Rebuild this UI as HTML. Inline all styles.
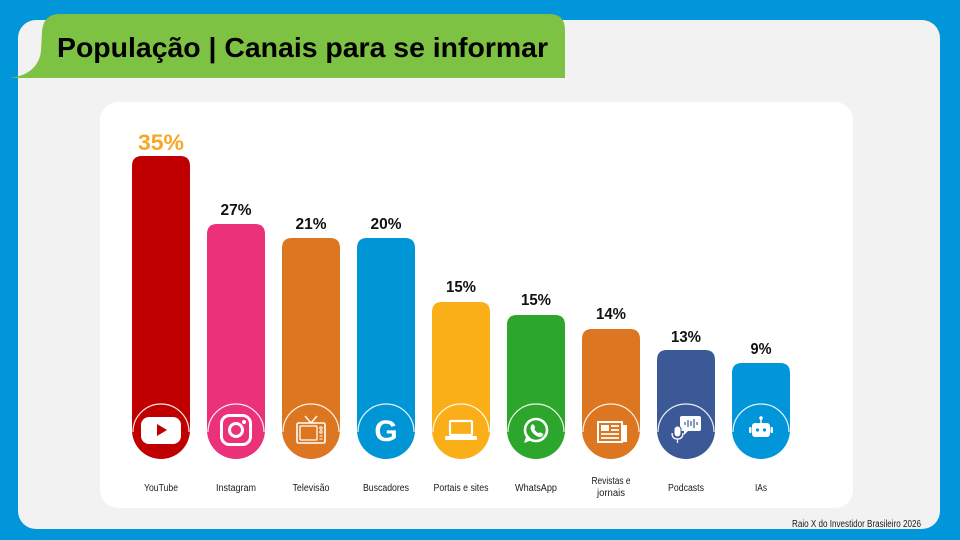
<!DOCTYPE html>
<html>
<head>
<meta charset="utf-8">
<style>
html,body{margin:0;padding:0;background:#0096D9;}
svg{display:block;}
text{font-family:"Liberation Sans",sans-serif;}
</style>
</head>
<body>
<svg width="960" height="540" viewBox="0 0 960 540" xmlns="http://www.w3.org/2000/svg">
  <rect x="0" y="0" width="960" height="540" fill="#0096D9"/>
  <!-- gray panel -->
  <rect x="18" y="20" width="922" height="509" rx="18" fill="#F2F2F2"/>
  <!-- green tab -->
  <path d="M10,78 C28,76 40,66 41,50 L42,32 Q43,14 60,14 L549,14 Q565,14 565,30 L565,78 Z" fill="#7DC243"/>
  <text x="57" y="57" font-size="28" font-weight="bold" fill="#000" textLength="491" lengthAdjust="spacingAndGlyphs">População | Canais para se informar</text>
  <!-- white card -->
  <rect x="100" y="102" width="753" height="406" rx="18" fill="#FFFFFF"/>

  <!-- bars -->
  <g>
    <path d="M132,166 Q132,156 142,156 H180 Q190,156 190,166 V430 A29,29 0 0 1 132,430 Z" fill="#C00000"/>
    <path d="M207,234 Q207,224 217,224 H255 Q265,224 265,234 V430 A29,29 0 0 1 207,430 Z" fill="#EC317B"/>
    <path d="M282,248 Q282,238 292,238 H330 Q340,238 340,248 V430 A29,29 0 0 1 282,430 Z" fill="#DC7620"/>
    <path d="M357,248 Q357,238 367,238 H405 Q415,238 415,248 V430 A29,29 0 0 1 357,430 Z" fill="#0096D6"/>
    <path d="M432,312 Q432,302 442,302 H480 Q490,302 490,312 V430 A29,29 0 0 1 432,430 Z" fill="#FAAF19"/>
    <path d="M507,325 Q507,315 517,315 H555 Q565,315 565,325 V430 A29,29 0 0 1 507,430 Z" fill="#2DA62C"/>
    <path d="M582,339 Q582,329 592,329 H630 Q640,329 640,339 V430 A29,29 0 0 1 582,430 Z" fill="#DC7620"/>
    <path d="M657,360 Q657,350 667,350 H705 Q715,350 715,360 V430 A29,29 0 0 1 657,430 Z" fill="#3B5897"/>
    <path d="M732,373 Q732,363 742,363 H780 Q790,363 790,373 V430 A29,29 0 0 1 732,430 Z" fill="#0096D9"/>
  </g>
  <!-- white arc outlines (top half only) -->
  <g fill="none" stroke="#FFFFFF" stroke-width="1.2" opacity="0.9">
    <path d="M133,432 A28,28 0 0 1 189,432"/>
    <path d="M208,432 A28,28 0 0 1 264,432"/>
    <path d="M283,432 A28,28 0 0 1 339,432"/>
    <path d="M358,432 A28,28 0 0 1 414,432"/>
    <path d="M433,432 A28,28 0 0 1 489,432"/>
    <path d="M508,432 A28,28 0 0 1 564,432"/>
    <path d="M583,432 A28,28 0 0 1 639,432"/>
    <path d="M658,432 A28,28 0 0 1 714,432"/>
    <path d="M733,432 A28,28 0 0 1 789,432"/>
  </g>

  <!-- value labels -->
  <text x="161" y="150" font-size="22" font-weight="bold" fill="#F7A823" text-anchor="middle" textLength="46" lengthAdjust="spacingAndGlyphs">35%</text>
  <g font-size="16" font-weight="bold" fill="#111" text-anchor="middle">
    <text x="236" y="215" textLength="31" lengthAdjust="spacingAndGlyphs">27%</text>
    <text x="311" y="229" textLength="31" lengthAdjust="spacingAndGlyphs">21%</text>
    <text x="386" y="229" textLength="31" lengthAdjust="spacingAndGlyphs">20%</text>
    <text x="461" y="292" textLength="30" lengthAdjust="spacingAndGlyphs">15%</text>
    <text x="536" y="305" textLength="30" lengthAdjust="spacingAndGlyphs">15%</text>
    <text x="611" y="319" textLength="30" lengthAdjust="spacingAndGlyphs">14%</text>
    <text x="686" y="342" textLength="30" lengthAdjust="spacingAndGlyphs">13%</text>
    <text x="761" y="354" textLength="21" lengthAdjust="spacingAndGlyphs">9%</text>
  </g>

  <!-- icons -->
  <!-- YouTube -->
  <rect x="141" y="417" width="40" height="27" rx="8" fill="#FFFFFF"/>
  <polygon points="157,424 157,436 167,430" fill="#C00000"/>
  <!-- Instagram -->
  <rect x="221.5" y="415.5" width="29" height="29" rx="8" fill="none" stroke="#FFFFFF" stroke-width="3"/>
  <circle cx="236" cy="430" r="6.5" fill="none" stroke="#FFFFFF" stroke-width="3"/>
  <circle cx="244" cy="422" r="2" fill="#FFFFFF"/>
  <!-- TV -->
  <g stroke="#FFFFFF" fill="none">
    <rect x="297" y="423" width="28" height="20" rx="1.5" stroke-width="1.6"/>
    <rect x="300" y="426" width="17" height="14" rx="1" stroke-width="1.3"/>
    <line x1="311" y1="423" x2="305" y2="416" stroke-width="1.4"/>
    <line x1="311" y1="423" x2="317" y2="416" stroke-width="1.4"/>
    <circle cx="321" cy="428" r="1.2" stroke-width="1"/>
    <circle cx="321" cy="432" r="1.2" stroke-width="1"/>
    <line x1="319.5" y1="436" x2="322.5" y2="436" stroke-width="1"/>
    <line x1="319.5" y1="439" x2="322.5" y2="439" stroke-width="1"/>
  </g>
  <!-- Google G -->
  <text x="386" y="441" font-size="30" font-weight="bold" fill="#FFFFFF" text-anchor="middle">G</text>
  <!-- Laptop -->
  <rect x="450" y="421" width="22" height="14" rx="1" fill="none" stroke="#FFFFFF" stroke-width="2.2"/>
  <rect x="445" y="436" width="32" height="4" rx="1" fill="#FFFFFF"/>
  <!-- WhatsApp -->
  <circle cx="536" cy="430" r="11" fill="none" stroke="#FFFFFF" stroke-width="2.6"/>
  <polygon points="524,443 527,434 532,440" fill="#FFFFFF"/>
  <path d="M531.5,425 q1.5,-1.5 2.5,0 l1,2 q0.5,1 -0.7,2 q1.5,3 4.2,4.2 q1,-1.2 2,-0.7 l2,1 q1.5,1 0,2.5 q-2,2 -5,0.5 q-5,-2.5 -6.5,-6.5 q-1,-3 0.5,-5 z" fill="#FFFFFF"/>
  <!-- Newspaper -->
  <rect x="598" y="422" width="24" height="20" fill="none" stroke="#FFFFFF" stroke-width="2"/>
  <rect x="601" y="425" width="8" height="6" fill="#FFFFFF"/>
  <g stroke="#FFFFFF" stroke-width="1.8">
    <line x1="611" y1="426" x2="619" y2="426"/>
    <line x1="611" y1="430" x2="619" y2="430"/>
    <line x1="601" y1="434" x2="619" y2="434"/>
    <line x1="601" y1="438" x2="619" y2="438"/>
  </g>
  <rect x="623" y="425" width="4" height="17" fill="#FFFFFF"/>
  <!-- Podcast -->
  <rect x="680" y="416" width="21" height="15" rx="2" fill="#FFFFFF"/>
  <polygon points="684,430 684,435 689,430" fill="#FFFFFF"/>
  <g stroke="#3B5897" stroke-width="1.2">
    <line x1="685" y1="422" x2="685" y2="425"/>
    <line x1="688" y1="420" x2="688" y2="427"/>
    <line x1="691" y1="421" x2="691" y2="426"/>
    <line x1="694" y1="419" x2="694" y2="428"/>
    <line x1="697" y1="422" x2="697" y2="425"/>
  </g>
  <rect x="674" y="426" width="7" height="11" rx="3.5" fill="#FFFFFF" stroke="#3B5897" stroke-width="1"/>
  <path d="M672,433 q0,6 5.5,6 q5.5,0 5.5,-6" fill="none" stroke="#FFFFFF" stroke-width="1.3"/>
  <line x1="677.5" y1="439" x2="677.5" y2="443" stroke="#FFFFFF" stroke-width="1.3"/>
  <!-- Robot -->
  <line x1="761" y1="418" x2="761" y2="423" stroke="#FFFFFF" stroke-width="1.5"/>
  <circle cx="761" cy="418" r="1.8" fill="#FFFFFF"/>
  <rect x="752" y="423" width="18" height="14" rx="3" fill="#FFFFFF"/>
  <rect x="749" y="427" width="2.5" height="6" rx="1" fill="#FFFFFF"/>
  <rect x="770.5" y="427" width="2.5" height="6" rx="1" fill="#FFFFFF"/>
  <circle cx="757.5" cy="430" r="1.6" fill="#0096D9"/>
  <circle cx="764.5" cy="430" r="1.6" fill="#0096D9"/>

  <!-- category labels -->
  <g font-size="10" fill="#1a1a1a" text-anchor="middle">
    <text x="161" y="491" textLength="34" lengthAdjust="spacingAndGlyphs">YouTube</text>
    <text x="236" y="491" textLength="40" lengthAdjust="spacingAndGlyphs">Instagram</text>
    <text x="311" y="491" textLength="37" lengthAdjust="spacingAndGlyphs">Televisão</text>
    <text x="386" y="491" textLength="46" lengthAdjust="spacingAndGlyphs">Buscadores</text>
    <text x="461" y="491" textLength="55" lengthAdjust="spacingAndGlyphs">Portais e sites</text>
    <text x="536" y="491" textLength="42" lengthAdjust="spacingAndGlyphs">WhatsApp</text>
    <text x="611" y="484" textLength="39" lengthAdjust="spacingAndGlyphs">Revistas e</text>
    <text x="611" y="496" textLength="28" lengthAdjust="spacingAndGlyphs">jornais</text>
    <text x="686" y="491" textLength="36" lengthAdjust="spacingAndGlyphs">Podcasts</text>
    <text x="761" y="491" textLength="12" lengthAdjust="spacingAndGlyphs">IAs</text>
  </g>

  <!-- footer -->
  <text x="792" y="527" font-size="10" fill="#1a1a1a" textLength="129" lengthAdjust="spacingAndGlyphs">Raio X do Investidor Brasileiro 2026</text>
</svg>
</body>
</html>
